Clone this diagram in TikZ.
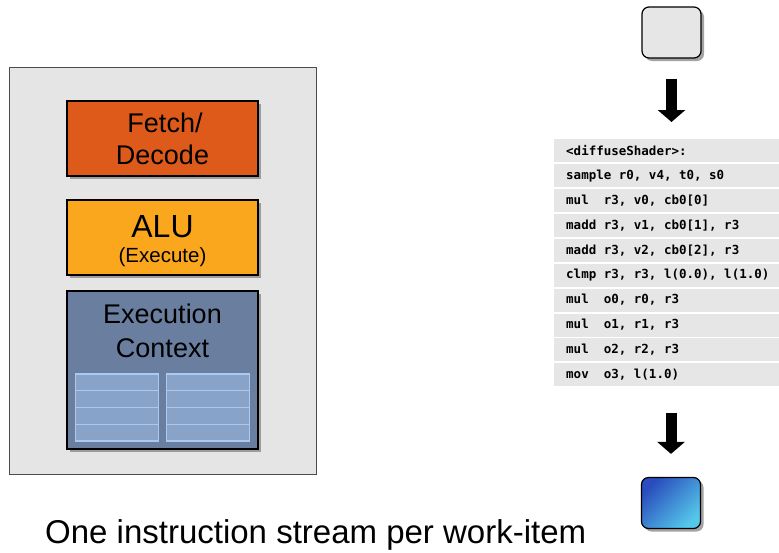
\documentclass[tikz,border=0pt]{standalone}
\usepackage{fontspec}
\setmainfont{Liberation Sans}
\newfontfamily\codefont{DejaVu Sans Mono}
\usetikzlibrary{arrows.meta,shadows,calc}
\definecolor{panelgray}{HTML}{E5E5E5}
\definecolor{fetchc}{HTML}{DD5A1A}
\definecolor{aluc}{HTML}{FBA71E}
\definecolor{ctxc}{HTML}{6A7FA0}
\definecolor{regfill}{HTML}{88A2C8}
\definecolor{regline}{HTML}{A9C9F2}
\definecolor{rowgray}{HTML}{E6E6E6}
\definecolor{blueA}{HTML}{2A4CBE}
\definecolor{blueB}{HTML}{55C8EA}
% one fixed-width blank of the listing font
\newcommand\lsp{\kern0.602em\relax}
\newcommand\listingfont{\codefont\bfseries\fontsize{12.5}{15}\selectfont}
\tikzset{
  unitbox/.style={draw=black, line width=1.4pt, rectangle, inner sep=0pt,
    drop shadow={shadow xshift=3pt, shadow yshift=-3pt, fill=black!45, opacity=0.8}},
  regcell/.style={draw=regline, fill=regfill, line width=1.3pt, rectangle, inner sep=0pt,
    minimum width=83pt, minimum height=16.75pt},
  coderow/.style={fill=rowgray, rectangle, inner sep=0pt, anchor=north west,
    minimum width=225pt, minimum height=23pt, font=\listingfont},
  streambox/.style={draw=black, line width=1.2pt, rounded corners=7pt, rectangle,
    minimum width=59pt, minimum height=51pt, inner sep=0pt,
    drop shadow={shadow xshift=3pt, shadow yshift=-3pt, fill=black!45, opacity=0.8}},
  blockarrow/.style={line width=11pt, -{Triangle[width=27pt,length=12pt]}},
  lbl/.style={anchor=base, inner sep=0pt}
}
\begin{document}
\begin{tikzpicture}[x=1pt,y=-1pt]
\useasboundingbox (0,0) rectangle (779,552);

% core panel
\node[draw=black!70, fill=panelgray, line width=1pt, rectangle, inner sep=0pt,
  minimum width=307pt, minimum height=407pt] (core) at (162.5,270.5) {};

\node[unitbox, fill=fetchc, minimum width=191pt, minimum height=75pt] (fetch) at (162.5,138.5) {};
\node[lbl, font=\fontsize{27}{32}\selectfont] (fetcht) at (165,132) {Fetch/};
\node[lbl, font=\fontsize{27}{32}\selectfont] (decodet) at (162.5,164) {Decode};

\node[unitbox, fill=aluc, minimum width=191pt, minimum height=75pt] (alu) at (162.5,237.5) {};
\node[lbl, font=\fontsize{32}{36}\selectfont] (alut) at (162.5,237) {ALU};
\node[lbl, font=\fontsize{20.5}{24}\selectfont] (alus) at (162.5,262.5) {(Execute)};

\node[unitbox, fill=ctxc, minimum width=191pt, minimum height=158pt] (ctx) at (162.5,370) {};
\node[lbl, font=\fontsize{27}{32}\selectfont] (ctxa) at (162.5,323) {Execution};
\node[lbl, font=\fontsize{27}{32}\selectfont] (ctxb) at (162.5,357) {Context};

% register file cells
\foreach \c/\cx in {L/117, R/208}{
  \foreach \r in {0,...,3}{
    \node[regcell] (reg\c\r) at (\cx, {382.4+\r*16.75}) {};
  }
}

% instruction stream
\node[streambox, fill=rowgray] (inbox) at (671.5,32.5) {};

\foreach \t [count=\i from 0] in {%
  {<diffuseShader>:},
  {sample\lsp r0,\lsp v4,\lsp t0,\lsp s0},
  {mul\lsp\lsp r3,\lsp v0,\lsp cb0[0]},
  {madd\lsp r3,\lsp v1,\lsp cb0[1],\lsp r3},
  {madd\lsp r3,\lsp v2,\lsp cb0[2],\lsp r3},
  {clmp\lsp r3,\lsp r3,\lsp l(0.0),\lsp l(1.0)},
  {mul\lsp\lsp o0,\lsp r0,\lsp r3},
  {mul\lsp\lsp o1,\lsp r1,\lsp r3},
  {mul\lsp\lsp o2,\lsp r2,\lsp r3},
  {mov\lsp\lsp o3,\lsp l(1.0)}}{
  \node[coderow] (row\i) at (554, {139+\i*24.9}) {\makebox[201pt][l]{\t}};
}

\node[streambox, left color=blueA, right color=blueB, shading angle=45] (outbox) at (671,503) {};

\draw[blockarrow] ([yshift=-20pt]inbox.south) -- ([yshift=17pt]row0.north -| inbox.south);
\draw[blockarrow] ([yshift=-26pt]row9.south -| outbox.north) -- ([yshift=23pt]outbox.north);

\node[anchor=base west, font=\fontsize{33}{38}\selectfont, inner sep=0pt] (caption) at (45,543)
  {One instruction stream per work-item};
\end{tikzpicture}
\end{document}
